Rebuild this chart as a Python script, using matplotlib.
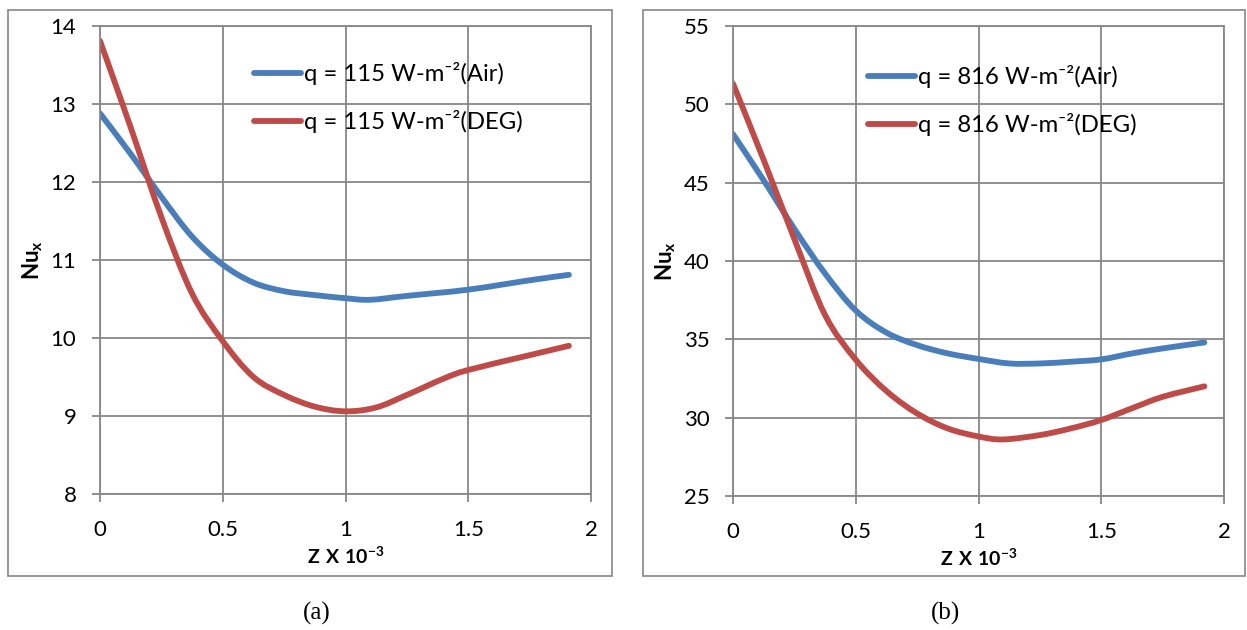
import matplotlib
matplotlib.use('Agg')
from matplotlib import pyplot as plt
from matplotlib.patches import Rectangle, PathPatch
from matplotlib.path import Path
from matplotlib.lines import Line2D
import numpy as np

plt.rcParams['font.family'] = ['Lato', 'DejaVu Sans']
plt.rcParams['mathtext.fontset'] = 'custom'
plt.rcParams['mathtext.rm'] = 'Lato'
plt.rcParams['mathtext.bf'] = 'Lato:bold'

# local Nusselt number along the channel, panel (a): q = 115 W/m2
z_a_air = [0, 0.125, 0.25, 0.375, 0.5, 0.625, 0.75, 0.875, 1.0, 1.1, 1.25, 1.5, 1.75, 1.91]
nu_a_air = [12.88, 12.36, 11.81, 11.30, 10.94, 10.71, 10.60, 10.55, 10.51, 10.49, 10.54, 10.62, 10.74, 10.81]
z_a_deg = [0, 0.125, 0.25, 0.375, 0.5, 0.625, 0.75, 0.875, 1.0, 1.125, 1.25, 1.4, 1.5, 1.75, 1.91]
nu_a_deg = [13.81, 12.70, 11.55, 10.57, 9.96, 9.50, 9.27, 9.12, 9.06, 9.11, 9.27, 9.48, 9.59, 9.78, 9.90]

# panel (b): q = 816 W/m2
z_b_air = [0, 0.125, 0.25, 0.375, 0.5, 0.625, 0.75, 0.875, 1.0, 1.125, 1.25, 1.375, 1.5, 1.625, 1.75, 1.92]
nu_b_air = [48.1, 45.15, 42.05, 39.2, 36.84, 35.43, 34.63, 34.1, 33.75, 33.46, 33.46, 33.57, 33.72, 34.1, 34.42, 34.8]
z_b_deg = [0, 0.125, 0.25, 0.375, 0.5, 0.625, 0.75, 0.875, 1.0, 1.1, 1.25, 1.375, 1.5, 1.625, 1.75, 1.92]
nu_b_deg = [51.32, 46.45, 41.4, 36.55, 33.7, 31.7, 30.27, 29.31, 28.8, 28.61, 28.89, 29.31, 29.85, 30.6, 31.33, 32.0]

labels_a = ['q = 115 W-m\u207b\u00b2(Air)', 'q = 115 W-m\u207b\u00b2(DEG)']
labels_b = ['q = 816 W-m\u207b\u00b2(Air)', 'q = 816 W-m\u207b\u00b2(DEG)']

blue = '#4A7EBB'
red = '#BE4B48'
grey = '#878787'

W, H = 1247, 630
fig = plt.figure(figsize=(W / 100, H / 100), dpi=100)

# outer frames round each chart
for x0, x1 in [(8, 612), (643, 1245)]:
    fig.patches.append(Rectangle((x0 / W, 1 - 576 / H), (x1 - x0) / W, (576 - 10) / H,
                                 transform=fig.transFigure, fill=False,
                                 edgecolor=grey, linewidth=1.2))


def smooth_line(ax, x, y, color):
    # spreadsheet-style smoothed line: cubic Bezier segments through the points
    p = np.column_stack([x, y]).astype(float)
    n = len(p)
    verts = [p[0]]
    codes = [Path.MOVETO]
    for i in range(n - 1):
        p0 = p[i - 1] if i > 0 else p[i]
        p3 = p[i + 2] if i + 2 < n else p[i + 1]
        c1 = p[i] + (p[i + 1] - p0) / 6
        c2 = p[i + 1] - (p3 - p[i]) / 6
        verts += [c1, c2, p[i + 1]]
        codes += [Path.CURVE4] * 3
    ax.add_patch(PathPatch(Path(verts, codes), fill=False, edgecolor=color,
                           lw=4.2, capstyle='round', joinstyle='round'))


def panel(rect, z1, n1, z2, n2, labels, ylim, yticks, leg_xy, cap, cap_x):
    ax = fig.add_axes(rect)
    smooth_line(ax, z1, n1, blue)
    smooth_line(ax, z2, n2, red)
    ax.set_xlim(0, 2)
    ax.set_ylim(*ylim)
    ax.set_xticks([0, 0.5, 1, 1.5, 2])
    ax.set_xticklabels(['0', '0.5', '1', '1.5', '2'])
    ax.set_yticks(yticks)
    ax.grid(True, color=grey, lw=1.3)
    ax.set_axisbelow(True)
    for s in ax.spines.values():
        s.set_color(grey)
        s.set_linewidth(1.3)
    ax.tick_params(axis='both', length=6, width=1.3, color=grey, labelsize=16)
    ax.tick_params(axis='x', pad=13)
    ax.tick_params(axis='y', pad=11)
    ax.set_xlabel(r'$\mathbf{Z\ X\ 10^{-3}}$', fontsize=14, labelpad=4)
    ax.set_ylabel(r'$\mathbf{Nu_x}$', fontsize=16, labelpad=4)
    handles = [Line2D([], [], color=blue, lw=4.2, solid_capstyle='round'),
               Line2D([], [], color=red, lw=4.2, solid_capstyle='round')]
    ax.legend(handles, labels, loc='upper left', bbox_to_anchor=leg_xy, frameon=False,
              fontsize=17.2, handlelength=1.95, handletextpad=0.15, labelspacing=1.05,
              borderpad=0, borderaxespad=0)
    fig.text(cap_x / W, 1 - 613 / H, cap, family='Liberation Serif', fontsize=18,
             ha='center', va='center')
    return ax


panel([100 / W, 1 - 494 / H, 491 / W, 468 / H], z_a_air, nu_a_air, z_a_deg, nu_a_deg,
      labels_a, (8, 14), np.arange(8, 15, 1), (0.314, 0.923), '(a)', 317)
panel([733 / W, 1 - 496 / H, 491 / W, 470 / H], z_b_air, nu_b_air, z_b_deg, nu_b_deg,
      labels_b, (25, 55), np.arange(25, 56, 5), (0.275, 0.917), '(b)', 946)

fig.savefig('out.png', dpi=100)
